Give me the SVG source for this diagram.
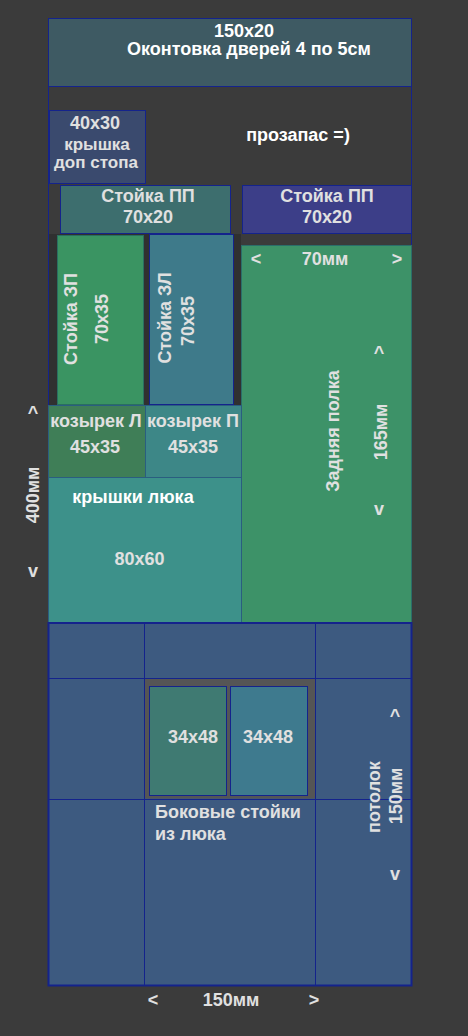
<svg xmlns="http://www.w3.org/2000/svg" width="468" height="1036" viewBox="0 0 468 1036">
<style>
text{font-family:"Liberation Sans",Arial,sans-serif;font-weight:bold;font-size:18px;fill:#e0e0e0;text-anchor:middle}
.w{fill:#ffffff}
.s{stroke:#14238c;stroke-width:1}
.ln{stroke:#14238c;stroke-width:1;fill:none}
</style>
<rect x="0" y="0" width="468" height="1036" fill="#3b3b3b"/>
<g id="frame"><rect x="48.5" y="18.5" width="363" height="967" fill="none" class="ln"/></g>
<g id="top"><rect x="48.5" y="18.5" width="363" height="68" fill="#3e5a63" class="s"/>
<text x="244" y="37" class="w">150x20</text><text x="249" y="55" class="w">Оконтовка дверей 4 по 5см</text></g>
<g id="lid40"><rect x="49.5" y="110.5" width="96" height="73" fill="#3a4a6e" class="s"/>
<text x="95" y="129">40x30</text><text x="97" y="150" style="font-size:17px">крышка</text><text x="96" y="168" style="font-size:17px">доп стопа</text></g>
<g id="spare"><text x="298" y="141" class="w">прозапас =)</text></g>
<g id="ppL"><rect x="60.5" y="185.5" width="170" height="48" fill="#3d6e6e" class="s"/>
<text x="148" y="202">Стойка ПП</text><text x="148" y="223">70x20</text></g>
<g id="ppR"><rect x="242.5" y="185.5" width="169" height="48" fill="#3c3e88" class="s"/>
<text x="327" y="202">Стойка ПП</text><text x="327" y="223">70x20</text></g>
<rect x="49" y="234" width="192" height="171" fill="#303030"/>
<g id="zpL"><rect x="57.5" y="235.5" width="86" height="169" fill="#3a9462" stroke="#2a6e60" stroke-width="1"/>
<text transform="translate(77,319) rotate(-90)">Стойка ЗП</text><text transform="translate(108,319) rotate(-90)">70x35</text></g>
<g id="zpR"><rect x="149.5" y="234.5" width="84" height="170" fill="#3e7a8a" class="s"/>
<text transform="translate(171,318) rotate(-90)">Стойка ЗЛ</text><text transform="translate(194,321) rotate(-90)">70x35</text></g>
<g id="shelf"><rect x="241.5" y="245.5" width="170" height="377" fill="#3d9268" stroke="#2a6e6a" stroke-width="1"/>
<text x="256" y="265">&lt;</text><text x="325" y="265">70мм</text><text x="397" y="265">&gt;</text>
<text x="379" y="359">^</text>
<text transform="translate(339,431) rotate(-90)">Задняя полка</text><text transform="translate(387,432) rotate(-90)">165мм</text>
<text x="379" y="515">v</text></g>
<g id="visorL"><rect x="48.5" y="405.5" width="97" height="72" fill="#3f7e57" stroke="#2a5e80" stroke-width="1"/>
<text x="96" y="427">козырек Л</text><text x="95" y="453">45x35</text></g>
<g id="visorR"><rect x="145.5" y="405.5" width="96" height="72" fill="#3d8787" stroke="#2a5e80" stroke-width="1"/>
<text x="193" y="427">козырек П</text><text x="193" y="453">45x35</text></g>
<g id="hatch"><rect x="48.5" y="477.5" width="193" height="145" fill="#3d918a" stroke="#2a5e80" stroke-width="1"/>
<text x="133" y="503" class="w">крышки люка</text><text x="139.5" y="565">80x60</text></g>
<g id="dim400"><text x="33" y="419">^</text><text transform="translate(39,495) rotate(-90)">400мм</text><text x="33" y="577">v</text></g>
<g id="ceiling"><rect x="48.5" y="623" width="363" height="362.5" fill="#3d5a80" stroke="#14238c" stroke-width="2"/>
<rect x="145" y="678.5" width="170" height="120" fill="#555555"/>
<line x1="144.5" y1="623" x2="144.5" y2="985" class="ln"/><line x1="315.5" y1="623" x2="315.5" y2="985" class="ln"/>
<line x1="48" y1="678.5" x2="411" y2="678.5" class="ln"/><line x1="48" y1="799.5" x2="411" y2="799.5" class="ln"/>
<text x="155" y="818" style="text-anchor:start">Боковые стойки</text><text x="155" y="840" style="text-anchor:start">из люка</text>
<text x="395" y="722">^</text>
<text transform="translate(380,797) rotate(-90)">потолок</text><text transform="translate(402,796) rotate(-90)">150мм</text>
<text x="395" y="880">v</text></g>
<g id="side1"><rect x="149.5" y="686.5" width="77" height="109" fill="#3f7a72" class="s"/><text x="193" y="743">34x48</text></g>
<g id="side2"><rect x="230.5" y="686.5" width="77" height="109" fill="#3e7a8e" class="s"/><text x="268" y="743">34x48</text></g>
<g id="dim150"><text x="153" y="1006">&lt;</text><text x="231" y="1006">150мм</text><text x="314" y="1006">&gt;</text></g>
</svg>
